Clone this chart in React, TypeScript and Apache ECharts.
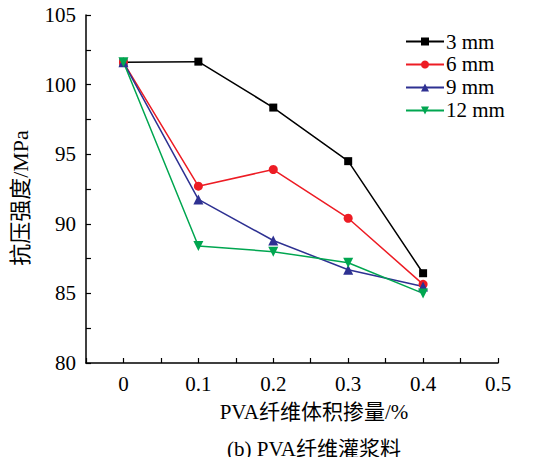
import React, { useEffect, useRef } from "react";
import * as echarts from "echarts";

const xValues = [0, 0.1, 0.2, 0.3, 0.4];
const series3mm = [101.6, 101.65, 98.35, 94.5, 86.45];
const series6mm = [101.6, 92.7, 93.9, 90.4, 85.65];
const series9mm = [101.6, 91.75, 88.8, 86.7, 85.5];
const series12mm = [101.6, 88.4, 88.0, 87.2, 85.0];
const seriesNames = ["3 mm", "6 mm", "9 mm", "12 mm"];
const xTitle = "PVA纤维体积掺量/%";
const yTitle = "抗压强度/MPa";
const subTitle = "(b) PVA纤维灌浆料";

const FONT = "'Liberation Serif', 'Times New Roman', 'Noto Sans CJK SC', serif";

export default function App() {
  const ref = useRef<HTMLDivElement>(null);
  useEffect(() => {
    const chart = echarts.init(ref.current!, null, { renderer: "svg" });
    const mk = (name: string, data: number[], color: string, symbol: string, size: number, rotate = 0) => ({
      name,
      type: "line",
      data: xValues.map((x, i) => [x, data[i]]),
      symbol,
      symbolSize: size,
      symbolRotate: rotate,
      showSymbol: true,
      lineStyle: { color, width: 1.5 },
      itemStyle: { color },
      emphasis: { disabled: true },
    });
    chart.setOption({
      animation: false,
      backgroundColor: "#fff",
      grid: { left: 86, right: 51, top: 15, bottom: 102, containLabel: false },
      legend: {
        orient: "vertical",
        left: 400,
        top: 26,
        itemWidth: 38,
        itemHeight: 10,
        itemGap: 2,
        textStyle: { fontFamily: FONT, fontSize: 21, lineHeight: 20, color: "#000", padding: [0, 0, 0, -3] },
        data: seriesNames,
      },
      xAxis: {
        type: "value",
        min: -0.05,
        max: 0.5,
        interval: 0.05,
        axisLine: { show: true, onZero: false, lineStyle: { color: "#000", width: 1.5 } },
        axisTick: { show: true, inside: true, length: 5, lineStyle: { color: "#000", width: 1.2 } },
        splitLine: { show: false },
        axisLabel: {
          fontFamily: FONT,
          fontSize: 21,
          color: "#000",
          margin: 10,
          formatter: (v: number) => {
            const k = Math.round(v * 100);
            if (k < 0 || k % 10 !== 0) return "";
            return k === 0 ? "0" : String(k / 100);
          },
        },
      },
      yAxis: {
        type: "value",
        min: 80,
        max: 105,
        interval: 2.5,
        axisLine: { show: true, onZero: false, lineStyle: { color: "#000", width: 1.5 } },
        axisTick: { show: true, inside: true, length: 5, lineStyle: { color: "#000", width: 1.2 } },
        splitLine: { show: false },
        axisLabel: {
          fontFamily: FONT,
          fontSize: 21,
          color: "#000",
          margin: 10,
          formatter: (v: number) => (Math.round(v * 10) % 50 === 0 ? String(Math.round(v)) : ""),
        },
      },
      graphic: [
        {
          type: "text",
          x: 20,
          y: 198,
          rotation: Math.PI / 2,
          style: {
            text: yTitle,
            fontFamily: FONT,
            fontSize: 22,
            fill: "#000",
            align: "center",
            verticalAlign: "middle",
          },
        },
        {
          type: "text",
          x: 314,
          y: 412,
          style: {
            text: xTitle,
            fontFamily: FONT,
            fontSize: 21,
            fill: "#000",
            align: "center",
            verticalAlign: "middle",
          },
        },
        {
          type: "text",
          x: 314,
          y: 449,
          style: {
            text: subTitle,
            fontFamily: FONT,
            fontSize: 21,
            fill: "#000",
            align: "center",
            verticalAlign: "middle",
          },
        },
      ],
      series: [
        mk(seriesNames[0], series3mm, "#000000", "rect", 8),
        mk(seriesNames[1], series6mm, "#ed1c24", "circle", 9),
        mk(seriesNames[2], series9mm, "#2e3192", "triangle", 10),
        mk(seriesNames[3], series12mm, "#00a650", "triangle", 10, 180),
      ],
    });
    return () => chart.dispose();
  }, []);
  return <div ref={ref} style={{ width: 549, height: 465, margin: -8 }} />;
}
